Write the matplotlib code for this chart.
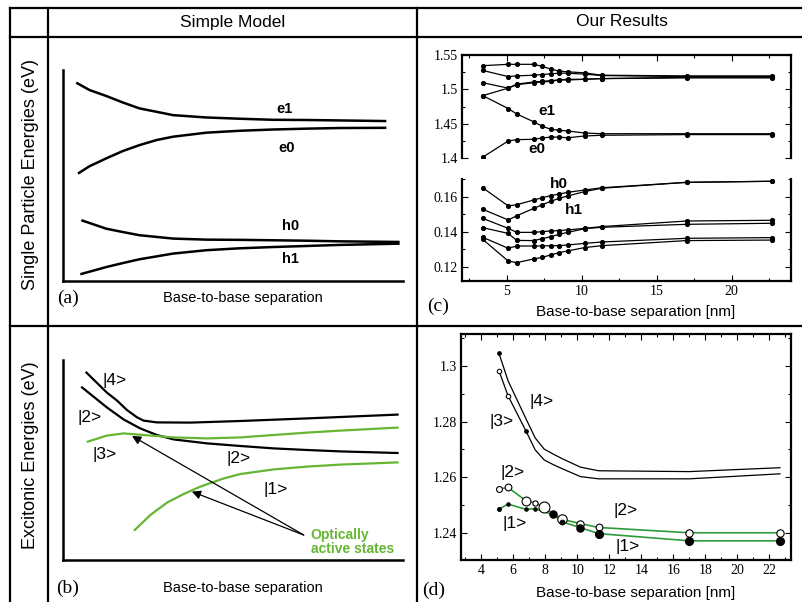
import numpy as np
import matplotlib.pyplot as plt
from matplotlib.ticker import MultipleLocator, FuncFormatter

W, H = 803, 602

SANS = "Liberation Sans"
SERIF = "Liberation Serif"

# ---------------------------------------------------------
# (a) simple model, single particle levels (arb. units)
# ---------------------------------------------------------
a_e1_x = [0.39, 0.78, 1.27, 1.76, 2.25, 2.75, 3.24, 4.22, 5.2, 6.18, 7.16, 8.14, 9.51]
a_e1_y = [9.40, 9.05, 8.77, 8.46, 8.18, 8.02, 7.86, 7.75, 7.69, 7.64, 7.63, 7.61, 7.58]
a_e0_x = [0.44, 0.78, 1.27, 1.76, 2.25, 2.75, 3.24, 4.22, 5.2, 6.18, 7.16, 8.14, 9.51]
a_e0_y = [5.09, 5.44, 5.81, 6.16, 6.44, 6.68, 6.84, 7.03, 7.12, 7.18, 7.22, 7.25, 7.26]
a_h0_x = [0.54, 1.27, 1.76, 2.25, 3.24, 4.22, 5.2, 6.18, 7.16, 8.14, 9.9]
a_h0_y = [2.88, 2.48, 2.32, 2.17, 2.01, 1.96, 1.95, 1.93, 1.91, 1.88, 1.85]
a_h1_x = [0.51, 1.27, 1.76, 2.25, 3.24, 4.22, 5.2, 6.18, 7.16, 8.14, 9.9]
a_h1_y = [0.32, 0.66, 0.85, 1.03, 1.30, 1.46, 1.55, 1.61, 1.66, 1.71, 1.77]

# ---------------------------------------------------------
# (b) simple model, excitonic levels (arb. units)
# ---------------------------------------------------------
b_s4_x = [0.69, 1.29, 1.59, 1.88, 2.18, 2.37, 2.76, 3.75, 5.22, 7.18, 9.84]
b_s4_y = [9.37, 8.37, 7.97, 7.50, 7.13, 6.97, 6.88, 6.87, 6.95, 7.08, 7.27]
b_s2_x = [0.56, 1.29, 1.78, 2.27, 2.76, 3.25, 4.24, 5.22, 6.2, 7.18, 8.16, 9.84]
b_s2_y = [8.63, 7.63, 7.03, 6.58, 6.25, 6.03, 5.83, 5.70, 5.58, 5.50, 5.43, 5.35]
b_s3_x = [0.73, 1.29, 1.78, 2.37, 3.25, 4.24, 5.22, 6.2, 7.18, 8.16, 9.84]
b_s3_y = [5.92, 6.22, 6.33, 6.25, 6.13, 6.08, 6.13, 6.25, 6.37, 6.47, 6.62]
b_s1_x = [2.11, 2.57, 3.06, 3.55, 4.04, 4.73, 5.22, 6.2, 7.18, 8.16, 9.84]
b_s1_y = [1.50, 2.25, 2.87, 3.30, 3.67, 4.08, 4.30, 4.53, 4.67, 4.77, 4.88]

# ---------------------------------------------------------
# (c) our results, single particle energies (eV)
# ---------------------------------------------------------
sep_c = [3.4, 5.1, 5.67, 6.8, 7.37, 7.93, 8.5, 9.07, 10.2, 11.33, 17.0, 22.67]

elec_levels = [
    [1.535, 1.537, 1.537, 1.537, 1.534, 1.530, 1.527, 1.526, 1.5245, 1.521, 1.520, 1.520],
    [1.528, 1.519, 1.520, 1.521, 1.522, 1.523, 1.524, 1.524, 1.5225, 1.5205, 1.519, 1.519],
    [1.510, 1.502, 1.507, 1.510, 1.511, 1.512, 1.514, 1.514, 1.515, 1.516, 1.518, 1.518],
    [1.491, 1.502, 1.508, 1.511, 1.512, 1.513, 1.514, 1.515, 1.515, 1.516, 1.517, 1.517],
    [1.491, 1.472, 1.464, 1.4525, 1.446, 1.4416, 1.440, 1.439, 1.436, 1.435, 1.435, 1.435],
    [1.4005, 1.4243, 1.4263, 1.4268, 1.4288, 1.430, 1.430, 1.429, 1.4317, 1.4327, 1.4337, 1.4337],
]

hole_levels = [
    [0.1651, 0.1547, 0.1554, 0.1581, 0.1594, 0.1606, 0.1615, 0.1625, 0.1638, 0.1651, 0.1682, 0.1688],
    [0.1528, 0.1467, 0.1491, 0.1533, 0.1554, 0.1573, 0.1591, 0.1604, 0.1629, 0.1648, 0.1682, 0.1688],
    [0.1476, 0.1419, 0.1396, 0.1396, 0.1400, 0.1404, 0.1406, 0.1410, 0.1419, 0.1429, 0.1461, 0.1465],
    [0.1423, 0.1390, 0.1350, 0.1349, 0.1360, 0.1371, 0.1385, 0.1396, 0.1417, 0.1425, 0.1442, 0.1448],
    [0.1368, 0.1305, 0.1318, 0.1318, 0.1318, 0.1320, 0.1320, 0.1324, 0.1333, 0.1341, 0.1362, 0.1366],
    [0.1356, 0.1232, 0.1223, 0.1244, 0.1253, 0.1267, 0.1280, 0.1290, 0.1309, 0.1320, 0.1349, 0.1352],
]

# ---------------------------------------------------------
# (d) our results, excitonic energies (eV)
# ---------------------------------------------------------
sep_d = [5.1, 5.67, 6.8, 7.37, 7.93, 8.5, 9.07, 10.2, 11.33, 17.0, 22.67]

exc_4 = [1.3046, 1.2947, 1.2809, 1.2741, 1.2701, 1.2683, 1.2666, 1.2636, 1.2623, 1.2620, 1.2634]
exc_3 = [1.2983, 1.2893, 1.2765, 1.2698, 1.2662, 1.2645, 1.2630, 1.2602, 1.2594, 1.2594, 1.2612]
exc_2 = [1.2557, 1.2563, 1.2515, 1.2508, 1.2491, 1.2468, 1.2448, 1.2433, 1.2419, 1.2400, 1.2400]
exc_1 = [1.2485, 1.2503, 1.2484, 1.2487, 1.2475, 1.2466, 1.2439, 1.2418, 1.2397, 1.2371, 1.2371]

# oscillator strengths (arb. units, 0 = dark)
osc_4 = [1.2, 0, 0, 0, 0, 0, 0, 0, 0, 0, 0]
osc_3 = [1.6, 1.6, 1.2, 0, 0, 0, 0, 0, 0, 0, 0]
osc_2 = [2.3, 2.7, 3.7, 2.0, 4.7, 0, 4.0, 3.0, 2.7, 3.0, 3.0]
osc_1 = [1.3, 1.1, 1.1, 1.1, 0, 3.0, 1.7, 3.0, 3.3, 3.3, 3.3]


def box(left, top, right, bottom):
    return [left / W, 1 - bottom / H, (right - left) / W, (bottom - top) / H]


def fmt_g(v, pos):
    return "%g" % round(v, 4)


def style_ticks(ax):
    ax.tick_params(which="both", direction="in", labelsize=10, pad=3)
    ax.tick_params(which="major", length=4, width=0.8)
    ax.tick_params(which="minor", length=2.5, width=0.8)
    for lab in ax.get_xticklabels() + ax.get_yticklabels():
        lab.set_fontfamily(SERIF)
    for s in ax.spines.values():
        s.set_linewidth(1.6)


def schematic_axes(ax):
    ax.set_xlim(0, 10)
    ax.set_ylim(0, 10)
    ax.set_xticks([])
    ax.set_yticks([])
    ax.spines["top"].set_visible(False)
    ax.spines["right"].set_visible(False)
    ax.spines["left"].set_linewidth(1.8)
    ax.spines["bottom"].set_linewidth(1.8)
    ax.patch.set_alpha(0)


def draw_states(ax, x, y, osc, open_marker, color):
    ax.plot(x, y, color=color, lw=1.2 if color != "black" else 0.9, zorder=2)
    for xi, yi, s in zip(x, y, osc):
        if s <= 0:
            continue
        ax.plot([xi], [yi], "o", ms=1.5 * s + 0.8,
                mfc="white" if open_marker and s > 1.5 else "black",
                mec="black", mew=0.8, zorder=3)


fig = plt.figure(figsize=(W / 100, H / 100), dpi=100)

# table frame
frame = fig.add_axes([0, 0, 1, 1])
frame.set_xlim(0, W)
frame.set_ylim(H, 0)
frame.axis("off")
lw_t = 1.6
for yy in [8, 37, 326]:
    frame.plot([10, W], [yy, yy], color="black", lw=lw_t)
for xx in [10, 48, 417]:
    frame.plot([xx, xx], [8, H], color="black", lw=lw_t)

frame.text(233, 22, "Simple Model", ha="center", va="center", fontsize=12.5, family=SANS)
frame.text(622, 22, "Our Results", ha="center", va="center", fontsize=12.5, family=SANS)
frame.text(31, 174, "Single Particle Energies (eV)", rotation=90, ha="center",
           va="center", fontsize=13, family=SANS)
frame.text(31, 455, "Excitonic Energies (eV)", rotation=90, ha="center",
           va="center", fontsize=13, family=SANS)

for lab, px, py in [("(a)", 68, 298), ("(b)", 68, 588), ("(c)", 438, 306), ("(d)", 434, 590)]:
    frame.text(px, py, lab, ha="center", va="center", fontsize=14, family=SERIF)

frame.text(243, 298, "Base-to-base separation", ha="center", va="center", fontsize=10.5, family=SANS)
frame.text(243, 588, "Base-to-base separation", ha="center", va="center", fontsize=10.5, family=SANS)
frame.text(636, 312, "Base-to-base separation [nm]", ha="center", va="center", fontsize=11, family=SANS)
frame.text(636, 593, "Base-to-base separation [nm]", ha="center", va="center", fontsize=11, family=SANS)

# ---------------------------------------------------------
# (a)
# ---------------------------------------------------------
ax_a = fig.add_axes(box(63, 70, 403, 281))
schematic_axes(ax_a)
for x, y in [(a_e1_x, a_e1_y), (a_e0_x, a_e0_y), (a_h0_x, a_h0_y), (a_h1_x, a_h1_y)]:
    ax_a.plot(x, y, color="black", lw=1.8, solid_capstyle="butt")
for lab, px, py in [("e1", 6.52, 8.16), ("e0", 6.57, 6.28), ("h0", 6.69, 2.63), ("h1", 6.69, 1.06)]:
    ax_a.text(px, py, lab, ha="center", va="center", fontsize=10.5, fontweight="bold", family=SANS)

# ---------------------------------------------------------
# (b)
# ---------------------------------------------------------
green_b = "#66b533"
ax_b = fig.add_axes(box(63, 360, 403, 560))
schematic_axes(ax_b)
ax_b.plot(b_s4_x, b_s4_y, color="black", lw=1.6)
ax_b.plot(b_s2_x, b_s2_y, color="black", lw=1.6)
ax_b.plot(b_s3_x, b_s3_y, color=green_b, lw=1.6)
ax_b.plot(b_s1_x, b_s1_y, color=green_b, lw=1.6)
for hx, hy in [(2.03, 6.2), (3.79, 3.42)]:
    ax_b.annotate("", xy=(hx, hy), xytext=(7.08, 1.25),
                  arrowprops=dict(arrowstyle="-|>", color="black", lw=0.9,
                                  mutation_scale=13, shrinkA=0, shrinkB=0))
for lab, px, py in [("|4>", 1.52, 8.98), ("|2>", 0.78, 7.13), ("|3>", 1.23, 5.25),
                    ("|2>", 5.17, 5.07), ("|1>", 6.24, 3.53)]:
    ax_b.text(px, py, lab, ha="center", va="center", fontsize=12.5, family=SANS)
ax_b.text(7.29, 1.25, "Optically", ha="left", va="center", fontsize=10,
          fontweight="bold", color=green_b, family=SANS)
ax_b.text(7.29, 0.53, "active states", ha="left", va="center", fontsize=10,
          fontweight="bold", color=green_b, family=SANS)

# ---------------------------------------------------------
# (c) broken axis: electrons on top, holes below
# ---------------------------------------------------------
ax_ce = fig.add_axes(box(462, 55, 791, 158))
ax_ch = fig.add_axes(box(462, 179, 791, 281))
for ax in (ax_ce, ax_ch):
    ax.set_xlim(2.02, 23.95)
    ax.xaxis.set_major_locator(MultipleLocator(5))
    ax.xaxis.set_minor_locator(MultipleLocator(2.5))
    ax.yaxis.set_major_formatter(FuncFormatter(fmt_g))

for lev in elec_levels:
    ax_ce.plot(sep_c, lev, "-o", color="black", lw=0.9, ms=2.7)
for lev in hole_levels:
    ax_ch.plot(sep_c, lev, "-o", color="black", lw=0.9, ms=2.7)

ax_ce.set_ylim(1.3993, 1.5507)
ax_ce.yaxis.set_major_locator(MultipleLocator(0.05))
ax_ce.yaxis.set_minor_locator(MultipleLocator(0.025))
ax_ce.spines["bottom"].set_visible(False)
ax_ce.tick_params(axis="x", which="both", bottom=False, labelbottom=False, top=True)
ax_ce.tick_params(axis="y", which="both", left=True, right=True)

ax_ch.set_ylim(0.1118, 0.1701)
ax_ch.yaxis.set_major_locator(MultipleLocator(0.02))
ax_ch.yaxis.set_minor_locator(MultipleLocator(0.01))
ax_ch.spines["top"].set_visible(False)
ax_ch.tick_params(axis="x", which="both", top=False, bottom=True)
ax_ch.tick_params(axis="y", which="both", left=True, right=True)

style_ticks(ax_ce)
style_ticks(ax_ch)

for lab, px, py in [("e1", 7.69, 1.4684), ("e0", 7.0, 1.413)]:
    ax_ce.text(px, py, lab, ha="center", va="center", fontsize=11, fontweight="bold", family=SANS)
for lab, px, py in [("h0", 8.47, 0.1671), ("h1", 9.49, 0.1524)]:
    ax_ch.text(px, py, lab, ha="center", va="center", fontsize=11, fontweight="bold", family=SANS)

# ---------------------------------------------------------
# (d)
# ---------------------------------------------------------
green_d = "#2e9b3a"
ax_d = fig.add_axes(box(461, 334, 791, 560))
ax_d.set_xlim(2.73, 23.36)
ax_d.set_ylim(1.2302, 1.3115)
ax_d.xaxis.set_major_locator(MultipleLocator(2))
ax_d.xaxis.set_minor_locator(MultipleLocator(1))
ax_d.yaxis.set_major_locator(MultipleLocator(0.02))
ax_d.yaxis.set_minor_locator(MultipleLocator(0.01))
ax_d.yaxis.set_major_formatter(FuncFormatter(fmt_g))
ax_d.tick_params(which="both", top=True, right=True)

draw_states(ax_d, sep_d, exc_4, osc_4, False, "black")
draw_states(ax_d, sep_d, exc_3, osc_3, True, "black")
draw_states(ax_d, sep_d, exc_2, osc_2, True, green_d)
draw_states(ax_d, sep_d, exc_1, osc_1, False, green_d)
style_ticks(ax_d)

for lab, px, py in [("|4>", 7.79, 1.2872), ("|3>", 5.25, 1.280), ("|2>", 5.98, 1.2615),
                    ("|2>", 13.04, 1.2480), ("|1>", 6.1, 1.2434), ("|1>", 13.13, 1.2350)]:
    ax_d.text(px, py, lab, ha="center", va="center", fontsize=12.5, family=SANS)

fig.savefig("out.png", dpi=100)
